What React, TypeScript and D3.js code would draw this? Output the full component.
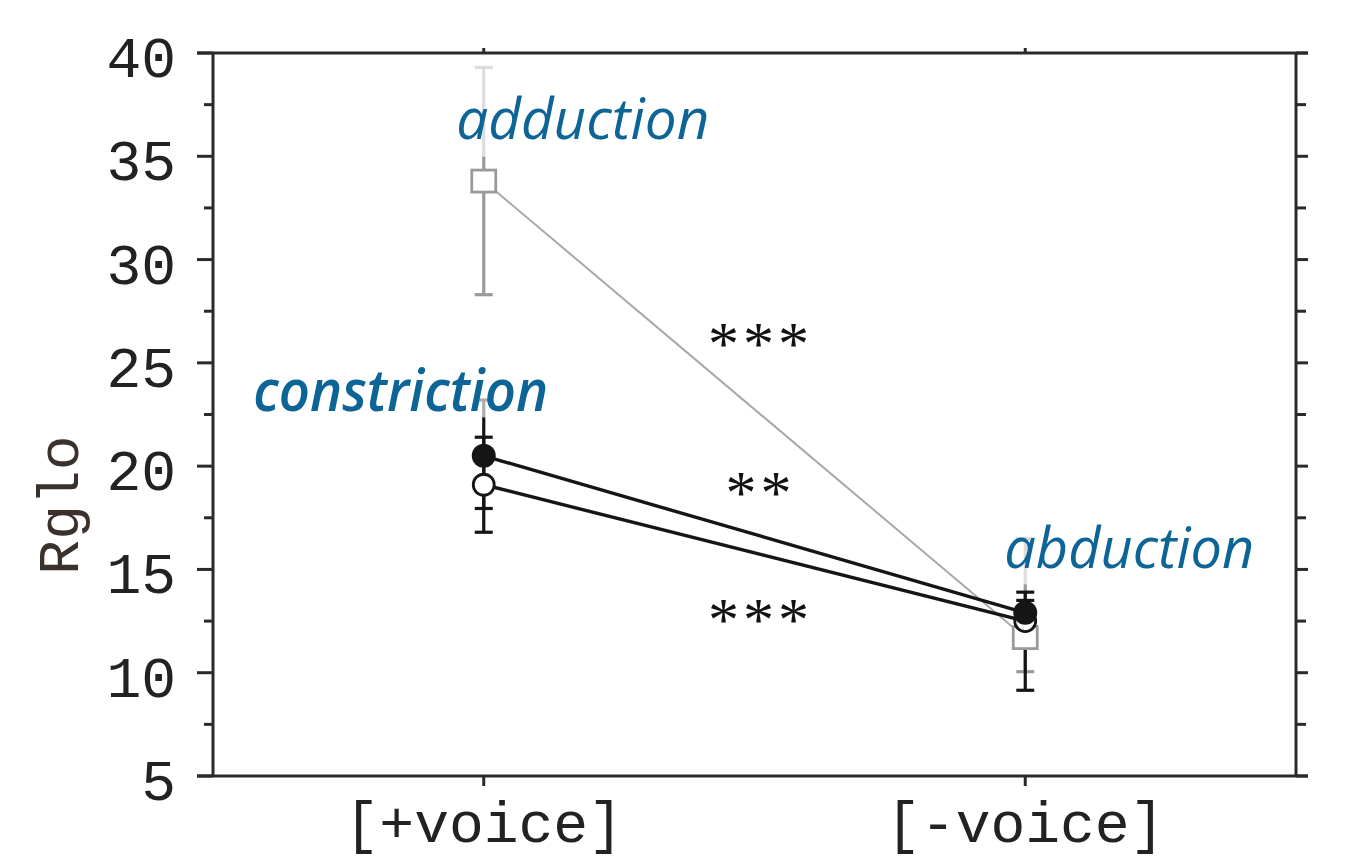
import React from "react";
import * as d3 from "d3";

const categories = ["[+voice]", "[-voice]"];

const filledMean = [20.5, 12.9];
const filledLo = [17.95, 11.25];
const filledHi = [23.2, 13.9];

const openMean = [19.1, 12.5];
const openLo = [16.8, 9.15];
const openHi = [21.4, 13.5];

const squareMean = [33.8, 11.7];
const squareLo = [28.3, 10.05];
const squareHi = [39.3, 16.5];

const yMajorTicks = [5, 10, 15, 20, 25, 30, 35, 40];
const yMinorTicks = [7.5, 12.5, 17.5, 22.5, 27.5, 32.5, 37.5];
const yLabel = "Rglo";

const annotations = [
  { text: "adduction", cat: 0, value: 35.85, dx: 99, w: 253, weight: 400, boxTop: -76, boxBottom: 18 },
  { text: "constriction", cat: 0, value: 22.65, dx: -83, w: 295, weight: 600, boxTop: -50, boxBottom: 6 },
  { text: "abduction", cat: 1, value: 15.05, dx: 104, w: 250, weight: 400, boxTop: -42, boxBottom: 16 },
];

const sigLabels = [
  { text: "***", value: 26.4 },
  { text: "**", value: 19.2 },
  { text: "***", value: 13.05 },
];

const W = 1358;
const H = 864;
const left = 213;
const right = 1296;
const top = 53;
const bottom = 776;

export default function App() {
  const x = d3.scalePoint<string>().domain(categories).range([left, right]).padding(0.5);
  const y = d3.scaleLinear().domain([5, 40]).range([bottom, top]);
  const xs = categories.map((c) => x(c) as number);
  const line = d3.line<[number, number]>().x((d) => d[0]).y((d) => d[1]);

  const axisColor = "#2a2a2a";
  const black = "#151515";
  const gray = "#9a9a9a";
  const blue = "#0d6496";
  const midX = (xs[0] + xs[1]) / 2;

  const errBar = (xc: number, lo: number, hi: number, color: string, key: string) => (
    <g key={key} stroke={color} strokeWidth={3.2}>
      <line x1={xc} x2={xc} y1={y(lo)} y2={y(hi)} />
      <line x1={xc - 9} x2={xc + 9} y1={y(lo)} y2={y(lo)} />
      <line x1={xc - 9} x2={xc + 9} y1={y(hi)} y2={y(hi)} />
    </g>
  );

  return (
    <svg width={W} height={H} style={{ position: "absolute", left: 0, top: 0, background: "#fff" }}>
      <rect x={0} y={0} width={W} height={H} fill="#fff" />
      {/* series lines */}
      <path d={line(xs.map((xc, i) => [xc, y(squareMean[i])]))!} stroke="#a8a8a8" strokeWidth={2} fill="none" />
      <path d={line(xs.map((xc, i) => [xc, y(openMean[i])]))!} stroke={black} strokeWidth={3.4} fill="none" />
      <path d={line(xs.map((xc, i) => [xc, y(filledMean[i])]))!} stroke={black} strokeWidth={3.4} fill="none" />
      {/* error bars */}
      {xs.map((xc, i) => errBar(xc, squareLo[i], squareHi[i], gray, "se" + i))}
      {xs.map((xc, i) => errBar(xc, openLo[i], openHi[i], black, "oe" + i))}
      {xs.map((xc, i) => errBar(xc, filledLo[i], filledHi[i], black, "fe" + i))}
      {/* markers */}
      {xs.map((xc, i) => (
        <rect key={"sq" + i} x={xc - 12} y={y(squareMean[i]) - 11} width={24} height={22} fill="#fff" stroke={gray} strokeWidth={2.8} />
      ))}
      {xs.map((xc, i) => (
        <circle key={"oc" + i} cx={xc} cy={y(openMean[i])} r={10.5} fill="#fff" stroke={black} strokeWidth={2.8} />
      ))}
      {xs.map((xc, i) => (
        <circle key={"fc" + i} cx={xc} cy={y(filledMean[i])} r={12} fill={black} />
      ))}
      {/* annotations */}
      {annotations.map((a, i) => {
        const ax = xs[a.cat] + a.dx;
        const ay = y(a.value);
        return (
          <g key={"an" + i}>
            <rect
              x={ax - a.w / 2 - 5}
              y={ay + a.boxTop}
              width={a.w + 10}
              height={a.boxBottom - a.boxTop}
              fill="#fff"
              opacity={0.65}
            />
            <text
              x={ax}
              y={ay}
              textAnchor="middle"
              fontFamily="'Open Sans', 'Noto Sans', sans-serif"
              fontStyle="italic"
              fontWeight={a.weight}
              fontSize={57}
              fill={blue}
              textLength={a.w}
              lengthAdjust="spacingAndGlyphs"
            >
              {a.text}
            </text>
          </g>
        );
      })}
      {sigLabels.map((s, i) => (
        <text
          key={"sig" + i}
          x={midX + 6}
          y={y(s.value) + 30}
          textAnchor="middle"
          fontFamily="'Liberation Serif', 'Times New Roman', serif"
          fontSize={62}
          letterSpacing={4}
          fill="#111"
        >
          {s.text}
        </text>
      ))}
      {/* tick labels */}
      <g fontFamily="'Liberation Mono', 'Courier New', monospace" fontSize={58} fill="#222">
        {yMajorTicks.map((t) => (
          <text key={"yl" + t} x={176} y={y(t) + 24} textAnchor="end">
            {t}
          </text>
        ))}
        {categories.map((c, i) => (
          <text key={"xl" + i} x={xs[i]} y={842} textAnchor="middle">
            {c}
          </text>
        ))}
        <text x={78} y={505} textAnchor="middle" transform="rotate(-90 78 505)" fill="#3a302c">
          {yLabel}
        </text>
      </g>
      {/* frame */}
      <g stroke={axisColor} strokeWidth={3} fill="none">
        <line x1={left} x2={left} y1={top} y2={bottom} />
        <line x1={right} x2={right} y1={top} y2={bottom} />
        <line x1={left - 16} x2={right + 12} y1={top} y2={top} />
        <line x1={left - 16} x2={right + 12} y1={bottom} y2={bottom} />
        {yMajorTicks.map((t) => (
          <g key={"M" + t}>
            <line x1={left - 16} x2={left} y1={y(t)} y2={y(t)} />
            <line x1={right} x2={right + 12} y1={y(t)} y2={y(t)} />
          </g>
        ))}
        {yMinorTicks.map((t) => (
          <g key={"m" + t}>
            <line x1={left - 9} x2={left} y1={y(t)} y2={y(t)} />
            <line x1={right} x2={right + 10} y1={y(t)} y2={y(t)} />
          </g>
        ))}
        {xs.map((xc, i) => (
          <g key={"x" + i}>
            <line x1={xc} x2={xc} y1={bottom} y2={bottom + 10} />
            <line x1={xc} x2={xc} y1={top} y2={top - 5} />
          </g>
        ))}
      </g>
    </svg>
  );
}
